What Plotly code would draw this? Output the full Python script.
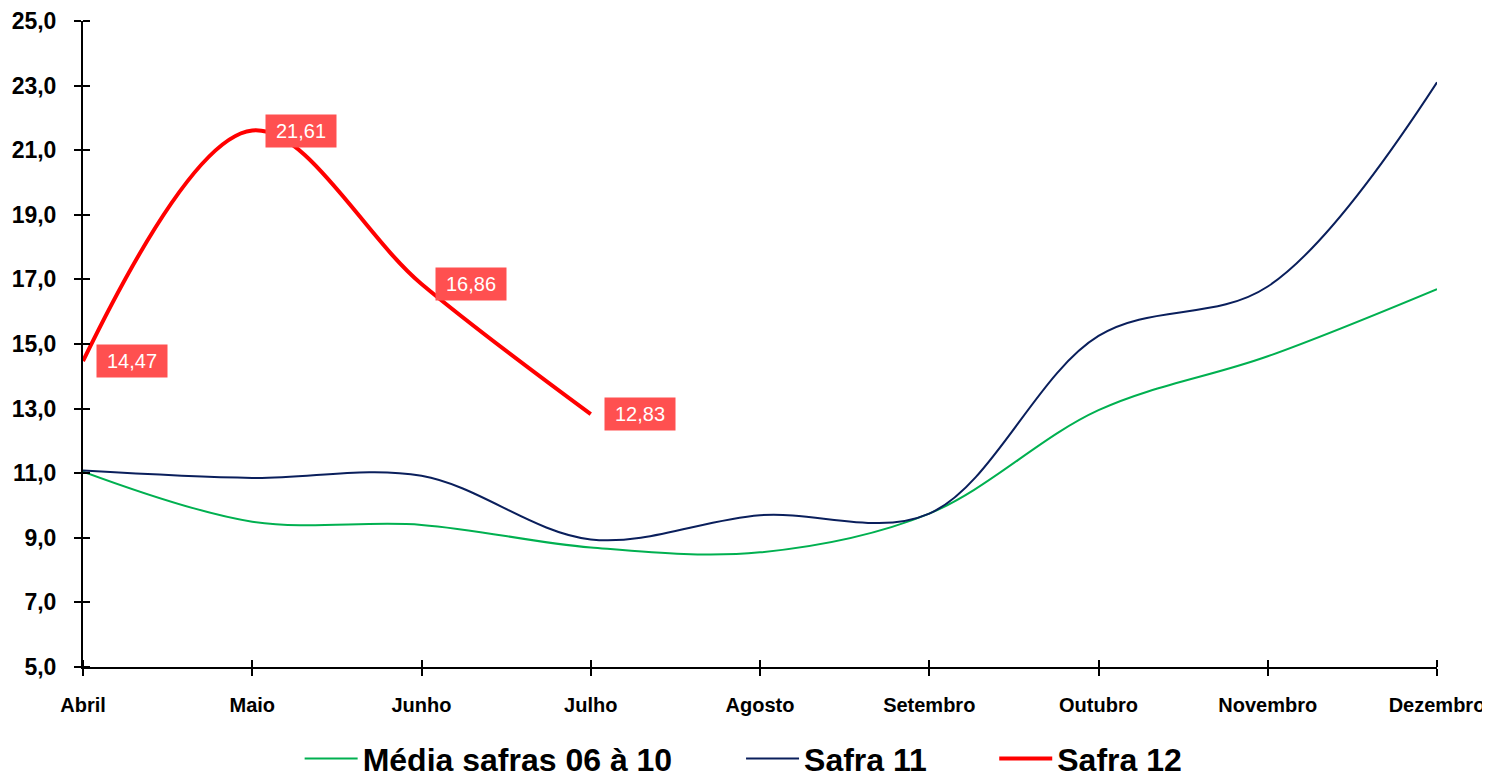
import plotly.graph_objects as go

months = ["Abril", "Maio", "Junho", "Julho", "Agosto", "Setembro", "Outubro", "Novembro", "Dezembro"]
media_0610 = [11.05, 9.50, 9.40, 8.70, 8.55, 9.75, 12.95, 14.62, 16.70]
safra_11 = [11.08, 10.85, 10.92, 8.95, 9.70, 9.75, 15.25, 16.78, 23.10]
safra_12 = [14.47, 21.61, 16.86, 12.83]
safra_12_labels = ["14,47", "21,61", "16,86", "12,83"]
y_ticks = [5, 7, 9, 11, 13, 15, 17, 19, 21, 23, 25]

xi = list(range(len(months)))

fig = go.Figure()
fig.add_trace(go.Scatter(x=xi, y=media_0610, mode="lines", name="Média safras 06 à 10",
                         legend="legend",
                         line=dict(color="#00B050", width=2, shape="spline", smoothing=1.0)))
fig.add_trace(go.Scatter(x=xi, y=safra_11, mode="lines", name="Safra 11",
                         legend="legend2",
                         line=dict(color="#0A1F5C", width=2, shape="spline", smoothing=1.0)))
fig.add_trace(go.Scatter(x=xi[:len(safra_12)], y=safra_12, mode="lines", name="Safra 12",
                         legend="legend3",
                         line=dict(color="#FF0000", width=4, shape="spline", smoothing=1.0)))

for x, y, t in zip(xi, safra_12, safra_12_labels):
    fig.add_annotation(x=x, y=y, text=t, showarrow=False, xanchor="left", yanchor="middle",
                       xshift=13, bgcolor="#FF5050", borderpad=0, width=70, height=32,
                       align="center", valign="middle",
                       font=dict(family="Liberation Sans, Arial", size=20, color="white"))

axis_common = dict(showline=True, linecolor="black", linewidth=2, tickcolor="black",
                   tickwidth=2, showgrid=False, zeroline=False, automargin=False)

# inner half of the cross-style ticks, drawn as minor ticks just next to the major ones
eps = 1e-6
minor_x = dict(tickmode="array", tickvals=[v + eps for v in xi], ticks="inside",
               ticklen=7, tickwidth=2, tickcolor="black", showgrid=False)
minor_y = dict(tickmode="array", tickvals=[v + eps for v in y_ticks], ticks="inside",
               ticklen=7, tickwidth=2, tickcolor="black", showgrid=False)

H = 790
plot_top, plot_bottom = 13, 661
leg_center = 753

leg_common = dict(orientation="h", yanchor="middle",
                  y=-(leg_center - plot_bottom) / (plot_bottom - plot_top), xanchor="left",
                  font=dict(size=32, family="Liberation Sans, Arial", weight="bold"),
                  bgcolor="rgba(0,0,0,0)", borderwidth=0, itemwidth=53)

fig.update_layout(
    width=1490, height=H,
    paper_bgcolor="white", plot_bgcolor="white",
    separators=",.",
    margin=dict(l=75, r=61, t=plot_top, b=H - plot_bottom),
    font=dict(family="Liberation Sans, Arial", color="black"),
    xaxis=dict(range=[0, 8], tickmode="array", tickvals=xi, ticktext=months,
               ticks="outside", ticklen=7, ticklabelstandoff=12, minor=minor_x,
               tickfont=dict(size=20, family="Liberation Sans, Arial", weight="bold"),
               **axis_common),
    yaxis=dict(range=[5, 25], tickmode="array", tickvals=y_ticks, tickformat=".1f",
               ticks="outside", ticklen=7, ticklabelstandoff=13, minor=minor_y,
               tickfont=dict(size=23, family="Liberation Sans, Arial", weight="bold"),
               **axis_common),
    legend=dict(x=0.160, **leg_common),
    legend2=dict(x=0.486, **leg_common),
    legend3=dict(x=0.673, **leg_common),
    showlegend=True,
)

fig.write_html("out.html")
